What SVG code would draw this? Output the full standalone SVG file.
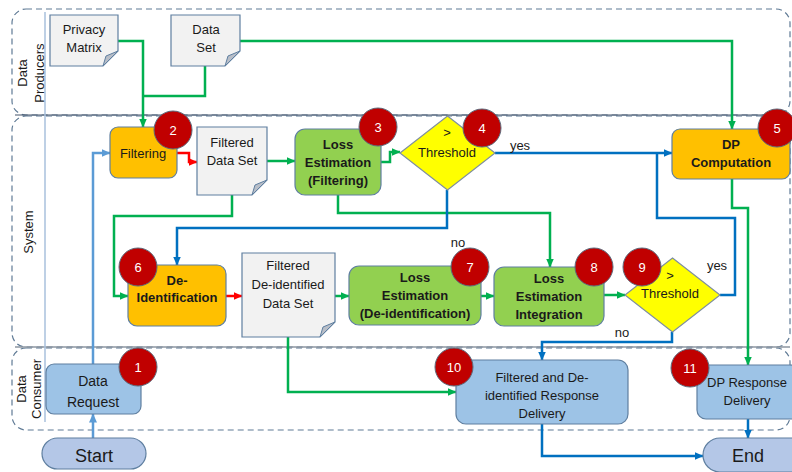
<svg xmlns="http://www.w3.org/2000/svg" width="792" height="472" viewBox="0 0 792 472">
<defs>
<style>
text{font-family:"Liberation Sans",Arial,sans-serif;font-size:13px;fill:#1a1a1a;text-anchor:middle}
.lane{fill:none;stroke:#5f7a95;stroke-width:1.2;stroke-dasharray:6,4}
.doc{fill:#f2f2f2;stroke:#5f7fa0;stroke-width:1.2}
.fold{fill:#b8bec8;stroke:#5f7fa0;stroke-width:1}
.org{fill:#ffc000;stroke:#5f7fa0;stroke-width:1.2}
.grn{fill:#92d050;stroke:#5f7fa0;stroke-width:1.2}
.lb{fill:#9dc3e6;stroke:#5f7fa0;stroke-width:1.2}
.pill{fill:#b4c7e7;stroke:#5f7fa0;stroke-width:1.2}
.dia{fill:#ffff00;stroke:#7f8fa0;stroke-width:1.2}
.badge circle{fill:#c00000;stroke:#5a6b7d;stroke-width:1}
.badge text{fill:#ffffff;font-size:13px}
.b{font-weight:bold}
.c path{fill:none;stroke-width:2.5}
.g{stroke:#00b050}
.r{stroke:#ff0000}
.bl{stroke:#0070c0}
.lt{stroke:#5b9bd5}
</style>
<marker id="ag" markerUnits="userSpaceOnUse" markerWidth="9" markerHeight="8" refX="8.5" refY="4" orient="auto"><path d="M0,0 L9,4 L0,8 Z" fill="#00b050"/></marker>
<marker id="ar" markerUnits="userSpaceOnUse" markerWidth="9" markerHeight="8" refX="8.5" refY="4" orient="auto"><path d="M0,0 L9,4 L0,8 Z" fill="#ff0000"/></marker>
<marker id="ab" markerUnits="userSpaceOnUse" markerWidth="9" markerHeight="8" refX="8.5" refY="4" orient="auto"><path d="M0,0 L9,4 L0,8 Z" fill="#0070c0"/></marker>
<marker id="al" markerUnits="userSpaceOnUse" markerWidth="9" markerHeight="8" refX="8.5" refY="4" orient="auto"><path d="M0,0 L9,4 L0,8 Z" fill="#5b9bd5"/></marker>
</defs>
<rect width="792" height="472" fill="#ffffff"/>
<g id="lanes">
<rect class="lane" x="12" y="9" width="778" height="106" rx="14"/>
<rect class="lane" x="12" y="116" width="778" height="231" rx="14"/>
<rect class="lane" x="12" y="348" width="778" height="82" rx="14"/>
<line x1="15" y1="115" x2="790" y2="115" stroke="#44546a" stroke-width="1.2"/>
<line x1="15" y1="347" x2="790" y2="347" stroke="#8c96a0" stroke-width="1.5"/>
<line x1="45" y1="12" x2="45" y2="422" stroke="#a9c1dc" stroke-width="1.5"/>
<text transform="translate(27,73) rotate(-90)">Data</text>
<text transform="translate(44,73) rotate(-90)">Producers</text>
<text transform="translate(33,232) rotate(-90)">System</text>
<text transform="translate(26,389) rotate(-90)">Data</text>
<text transform="translate(41,389) rotate(-90)">Consumer</text>
</g>
<g id="connectors" class="c">
<path class="g" d="M118,41 H143 V127" marker-end="url(#ag)"/>
<path class="g" d="M205,66 V96 H143"/>
<path class="g" d="M240,41 H732 V129" marker-end="url(#ag)"/>
<path class="g" d="M267,161 H295" marker-end="url(#ag)"/>
<path class="g" d="M381,162 H390 V152 H400" marker-end="url(#ag)"/>
<path class="g" d="M338,195 V213 H550 V267" marker-end="url(#ag)"/>
<path class="g" d="M232,195 V216 H114 V296 H128" marker-end="url(#ag)"/>
<path class="g" d="M335,296 H349" marker-end="url(#ag)"/>
<path class="g" d="M481,296 H494" marker-end="url(#ag)"/>
<path class="g" d="M604,295 H625" marker-end="url(#ag)"/>
<path class="g" d="M288,337 V392 H456" marker-end="url(#ag)"/>
<path class="g" d="M732,179 V208 H748 V365" marker-end="url(#ag)"/>
<path class="r" d="M177,153 H189 V162 H197" marker-end="url(#ar)"/>
<path class="r" d="M226,296 H242" marker-end="url(#ar)"/>
<path class="bl" d="M495,153 H672" marker-end="url(#ab)"/>
<path class="bl" d="M447,190 V228 H177 V265" marker-end="url(#ab)"/>
<path class="bl" d="M720,295 H735 V218 H657 V153"/>
<path class="bl" d="M672,332 V342 H542 V360" marker-end="url(#ab)"/>
<path class="bl" d="M542,424 V456 H703" marker-end="url(#ab)"/>
<path class="bl" d="M748,419 V438" marker-end="url(#ab)"/>
<path class="lt" d="M93,438 V414" marker-end="url(#al)"/>
<path class="lt" d="M93,364 V153 H110" marker-end="url(#al)"/>
<text x="520" y="150">yes</text>
<text x="458" y="247">no</text>
<text x="717" y="270">yes</text>
<text x="622" y="337">no</text>
</g>
<g id="privacy-matrix">
<path class="doc" d="M50,15 H118 V51 L103,66 H50 Z"/>
<path class="fold" d="M118,51 L103,66 L106,56 Z"/>
<text x="84" y="34">Privacy</text>
<text x="84" y="52">Matrix</text>
</g>
<g id="data-set">
<path class="doc" d="M171,15 H240 V51 L225,66 H171 Z"/>
<path class="fold" d="M240,51 L225,66 L228,56 Z"/>
<text x="206" y="34">Data</text>
<text x="206" y="52">Set</text>
</g>
<g id="filtering">
<rect class="org" x="110" y="127" width="67" height="51" rx="8"/>
<text x="143" y="158">Filtering</text>
</g>
<g id="filtered-data-set">
<path class="doc" d="M197,127 H267 V180 L252,195 H197 Z"/>
<path class="fold" d="M267,180 L252,195 L255,185 Z"/>
<text x="232" y="147">Filtered</text>
<text x="232" y="165">Data Set</text>
</g>
<g id="loss-filtering">
<rect class="grn" x="295" y="129" width="86" height="66" rx="10"/>
<text class="b" x="338" y="149">Loss</text>
<text class="b" x="338" y="167">Estimation</text>
<text class="b" x="338" y="185">(Filtering)</text>
</g>
<g id="threshold-1">
<path class="dia" d="M447.5,116 L495,153 L447.5,190 L400,153 Z"/>
<text x="447" y="137">&gt;</text>
<text x="447" y="157">Threshold</text>
</g>
<g id="dp-computation">
<rect class="org" x="672" y="129" width="118" height="50" rx="8"/>
<text class="b" x="731" y="149">DP</text>
<text class="b" x="731" y="167">Computation</text>
</g>
<g id="de-identification">
<rect class="org" x="128" y="265" width="98" height="61" rx="9"/>
<text class="b" x="177" y="285">De-</text>
<text class="b" x="177" y="302">Identification</text>
</g>
<g id="filtered-deid-data-set">
<path class="doc" d="M242,253 H335 V322 L320,337 H242 Z"/>
<path class="fold" d="M335,322 L320,337 L323,327 Z"/>
<text x="288" y="270">Filtered</text>
<text x="288" y="289">De-identified</text>
<text x="288" y="308">Data Set</text>
</g>
<g id="loss-deid">
<rect class="grn" x="349" y="266" width="132" height="59" rx="10"/>
<text class="b" x="415" y="282">Loss</text>
<text class="b" x="415" y="300">Estimation</text>
<text class="b" x="415" y="318">(De-identification)</text>
</g>
<g id="loss-integration">
<rect class="grn" x="494" y="267" width="110" height="59" rx="10"/>
<text class="b" x="549" y="283">Loss</text>
<text class="b" x="549" y="301">Estimation</text>
<text class="b" x="549" y="319">Integration</text>
</g>
<g id="threshold-2">
<path class="dia" d="M672.5,258 L720,295 L672.5,332 L625,295 Z"/>
<text x="670" y="280">&gt;</text>
<text x="670" y="298">Threshold</text>
</g>
<g id="data-request">
<rect class="lb" x="46" y="364" width="95" height="50" rx="8"/>
<text x="93" y="386" style="font-size:14px">Data</text>
<text x="93" y="407" style="font-size:14px">Request</text>
</g>
<g id="response-delivery">
<rect class="lb" x="456" y="360" width="172" height="64" rx="10"/>
<text x="542" y="382">Filtered and De-</text>
<text x="542" y="400">identified Response</text>
<text x="542" y="418">Delivery</text>
</g>
<g id="dp-response-delivery">
<rect class="lb" x="697" y="365" width="102" height="54" rx="9"/>
<text x="747" y="387">DP Response</text>
<text x="747" y="405">Delivery</text>
</g>
<g id="start">
<rect class="pill" x="42" y="438" width="104" height="31" rx="15.5"/>
<text x="94" y="462" style="font-size:18px">Start</text>
</g>
<g id="end">
<rect class="pill" x="703" y="438" width="110" height="34" rx="17"/>
<text x="748" y="462" style="font-size:18px">End</text>
</g>
<g id="badges">
<g class="badge" id="badge-1"><circle cx="138" cy="367" r="19"/><text x="138" y="372">1</text></g>
<g class="badge" id="badge-2"><circle cx="173" cy="130" r="19"/><text x="173" y="135">2</text></g>
<g class="badge" id="badge-3"><circle cx="378" cy="127" r="19"/><text x="378" y="132">3</text></g>
<g class="badge" id="badge-4"><circle cx="482" cy="128" r="19"/><text x="482" y="133">4</text></g>
<g class="badge" id="badge-5"><circle cx="777" cy="128" r="19"/><text x="777" y="133">5</text></g>
<g class="badge" id="badge-6"><circle cx="138" cy="267" r="19"/><text x="138" y="272">6</text></g>
<g class="badge" id="badge-7"><circle cx="470" cy="267" r="19"/><text x="470" y="272">7</text></g>
<g class="badge" id="badge-8"><circle cx="594" cy="267" r="19"/><text x="594" y="272">8</text></g>
<g class="badge" id="badge-9"><circle cx="642" cy="267" r="19"/><text x="642" y="272">9</text></g>
<g class="badge" id="badge-10"><circle cx="454" cy="367" r="19"/><text x="454" y="372">10</text></g>
<g class="badge" id="badge-11"><circle cx="690" cy="368" r="19"/><text x="690" y="373">11</text></g>
</g>
</svg>
